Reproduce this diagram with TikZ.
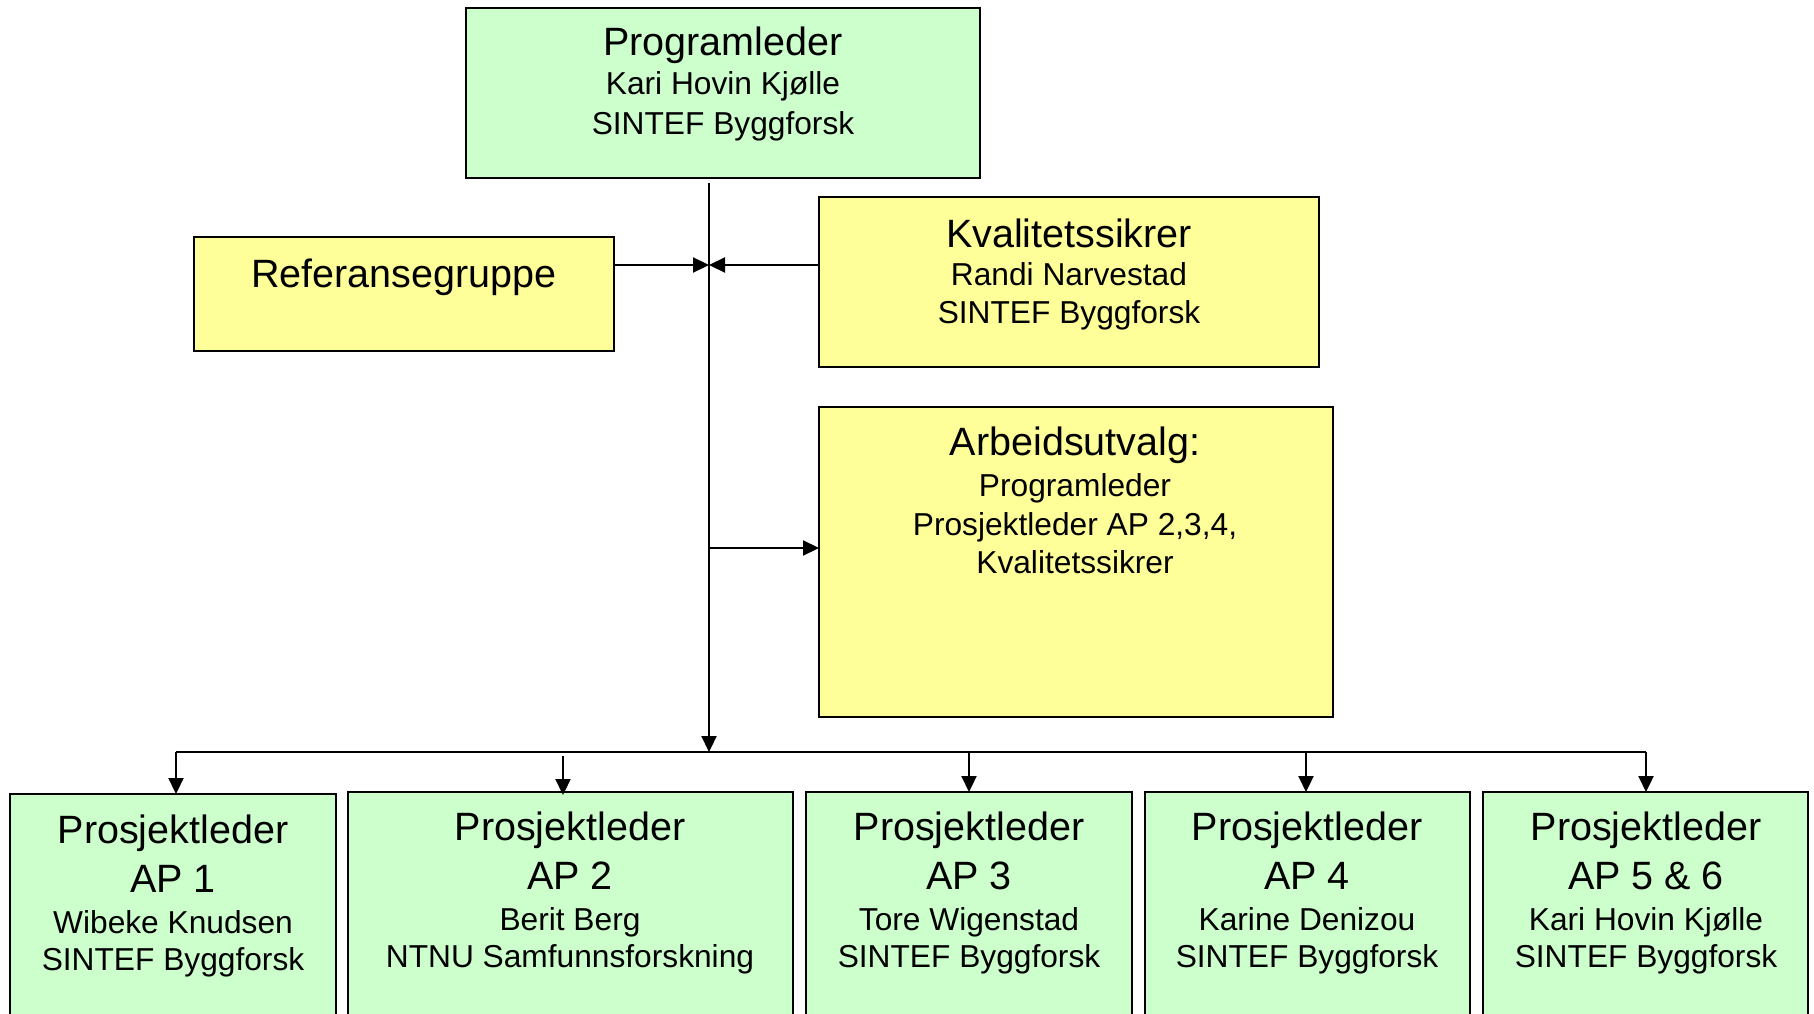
\documentclass[tikz,border=0pt]{standalone}
\usepackage{fontspec}
\setmainfont{Liberation Sans}
\usetikzlibrary{arrows.meta}
\definecolor{boxgreen}{HTML}{CCFFCC}
\definecolor{boxyellow}{HTML}{FFFF99}
\begin{document}
\begin{tikzpicture}[x=1pt,y=-1pt,
  box/.style={draw=black, line width=2pt, anchor=north west, inner sep=0pt, outer sep=0pt},
  gbox/.style={box, fill=boxgreen},
  ybox/.style={box, fill=boxyellow},
  bigt/.style={anchor=base, inner sep=0pt, font=\fontsize{39.5}{47}\selectfont},
  smallt/.style={anchor=base, inner sep=0pt, font=\fontsize{31.7}{38}\selectfont},
  conn/.style={line width=2.2pt, draw=black},
  arr/.style={conn, -{Triangle[length=16pt,width=15pt]}}]
\useasboundingbox (0,0) rectangle (1814,1014);
\clip (0,0) rectangle (1814,1014);
\fill[white] (0,0) rectangle (1814,1014);

% boxes
\node[gbox, minimum width=514pt, minimum height=170pt] (prog) at (466,8) {};
\node[ybox, minimum width=420pt, minimum height=114pt] (ref) at (194,237) {};
\node[ybox, minimum width=500pt, minimum height=170pt] (kval) at (819,197) {};
\node[ybox, minimum width=514pt, minimum height=310pt] (arb) at (819,407) {};
\node[gbox, minimum width=326pt, minimum height=260pt] (ap1) at (10,794) {};
\node[gbox, minimum width=445pt, minimum height=260pt] (ap2) at (348,792) {};
\node[gbox, minimum width=326pt, minimum height=260pt] (ap3) at (806,792) {};
\node[gbox, minimum width=325pt, minimum height=260pt] (ap4) at (1145,792) {};
\node[gbox, minimum width=325pt, minimum height=260pt] (ap5) at (1483,792) {};

% texts
\node[bigt] (progt1) at (723,56) {Programleder};
\node[smallt] (progt2) at (723,95) {Kari Hovin Kjølle};
\node[smallt] (progt3) at (723,135) {SINTEF Byggforsk};

\node[bigt] (reft1) at (404,287) {Referansegruppe};

\node[bigt] (kvalt1) at (1069,247) {Kvalitetssikrer};
\node[smallt] (kvalt2) at (1069,285) {Randi Narvestad};
\node[smallt] (kvalt3) at (1069,323) {SINTEF Byggforsk};

\node[bigt] (arbt1) at (1075,455) {Arbeidsutvalg:};
\node[smallt] (arbt2) at (1075,496) {Programleder};
\node[smallt] (arbt3) at (1075,535) {Prosjektleder AP 2,3,4,};
\node[smallt] (arbt4) at (1075,573) {Kvalitetssikrer};

\node[bigt] (ap1t1) at (173,843) {Prosjektleder};
\node[bigt] (ap1t2) at (173,892) {AP 1};
\node[smallt] (ap1t3) at (173,933) {Wibeke Knudsen};
\node[smallt] (ap1t4) at (173,970) {SINTEF Byggforsk};

\node[bigt] (ap2t1) at (570,840) {Prosjektleder};
\node[bigt] (ap2t2) at (570,889) {AP 2};
\node[smallt] (ap2t3) at (570,930) {Berit Berg};
\node[smallt] (ap2t4) at (570,967) {NTNU Samfunnsforskning};

\node[bigt] (ap3t1) at (969,840) {Prosjektleder};
\node[bigt] (ap3t2) at (969,889) {AP 3};
\node[smallt] (ap3t3) at (969,930) {Tore Wigenstad};
\node[smallt] (ap3t4) at (969,967) {SINTEF Byggforsk};

\node[bigt] (ap4t1) at (1307,840) {Prosjektleder};
\node[bigt] (ap4t2) at (1307,889) {AP 4};
\node[smallt] (ap4t3) at (1307,930) {Karine Denizou};
\node[smallt] (ap4t4) at (1307,967) {SINTEF Byggforsk};

\node[bigt] (ap5t1) at (1646,840) {Prosjektleder};
\node[bigt] (ap5t2) at (1646,889) {AP 5 \& 6};
\node[smallt] (ap5t3) at (1646,930) {Kari Hovin Kjølle};
\node[smallt] (ap5t4) at (1646,967) {SINTEF Byggforsk};

% connector coordinates
\coordinate (ttop) at (709,183);
\coordinate (jref) at (709,265);
\coordinate (jarb) at (709,548);
\coordinate (bus) at (709,752);
\coordinate (b1) at (176,752);
\coordinate (b2) at (563,756);
\coordinate (b3) at (969,752);
\coordinate (b4) at (1306,752);
\coordinate (b5) at (1646,752);

% connectors
\draw[arr] (ttop) -- (bus);
\draw[arr] (ref.east |- jref) -- (jref);
\draw[arr] (kval.west |- jref) -- (jref);
\draw[arr] (jarb) -- (arb.west |- jarb);
\draw[conn, line join=miter] (b1) -- (b5);
\draw[arr] (b1) -- (b1 |- ap1.north);
\draw[arr] (b2) -- ([yshift=-3pt]b2 |- ap2.north);
\draw[arr] (b3) -- (b3 |- ap3.north);
\draw[arr] (b4) -- (b4 |- ap4.north);
\draw[arr] (b5) -- (b5 |- ap5.north);
\end{tikzpicture}
\end{document}
